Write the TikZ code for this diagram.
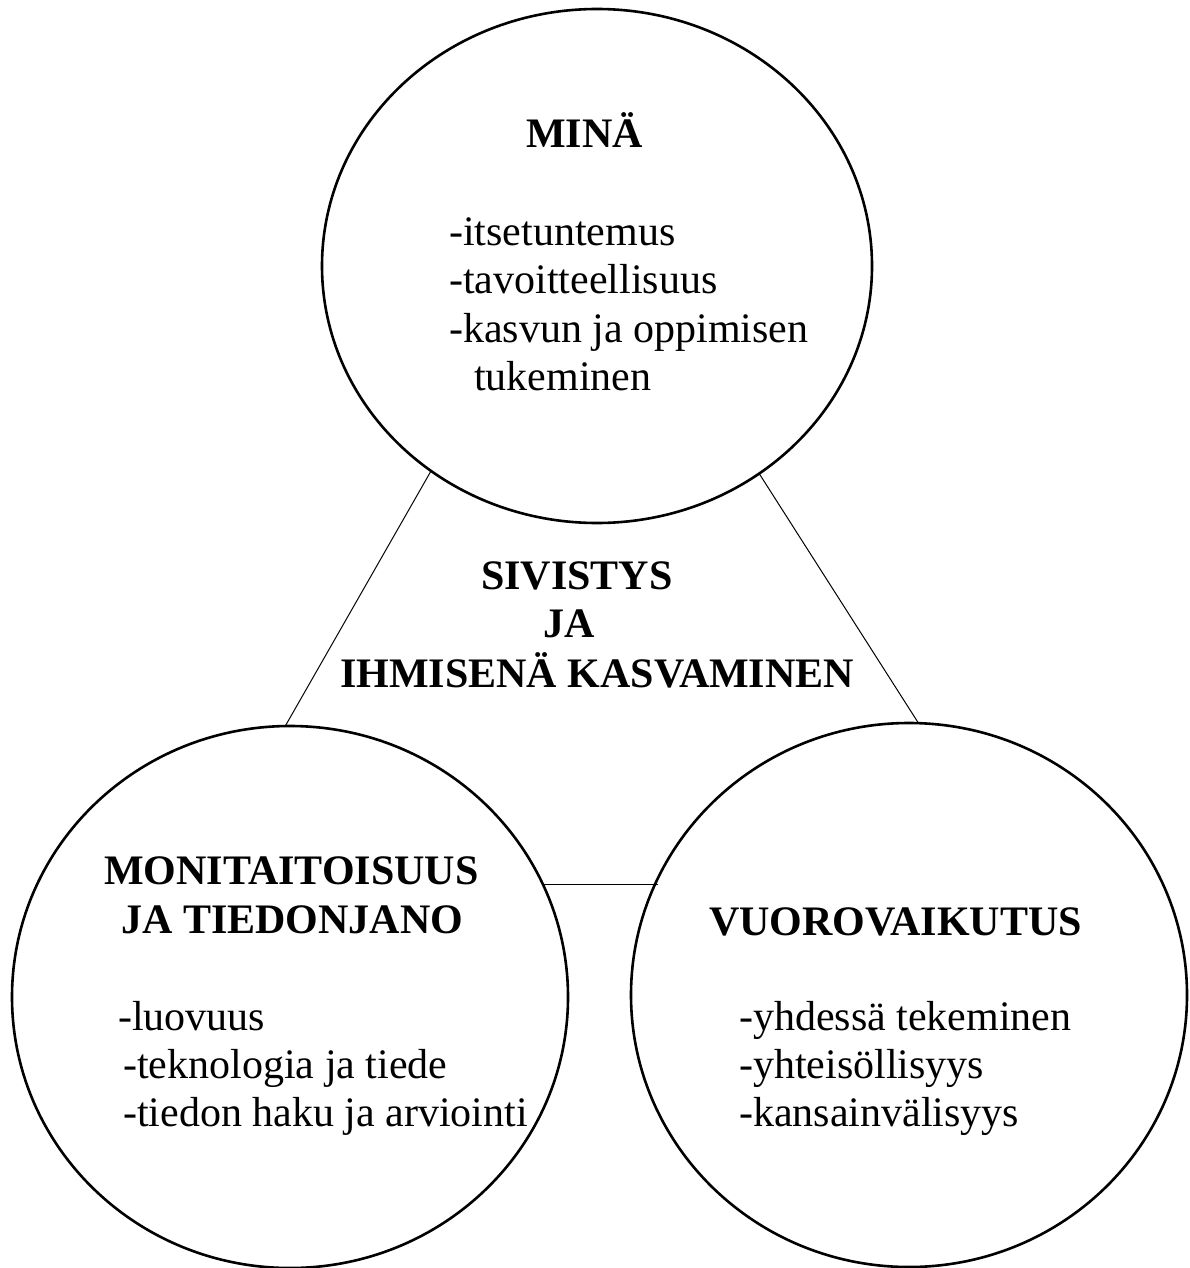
\documentclass[tikz,border=0pt]{standalone}
\usepackage{fontspec}
\setmainfont{Liberation Serif}[BoldFont={Liberation Serif Bold},ItalicFont={Liberation Serif Italic}]
\usetikzlibrary{shapes.geometric}
\begin{document}
\begin{tikzpicture}[x=1pt,y=-1pt,
  bubble/.style={ellipse,draw,line width=2.6pt,inner sep=0pt,outer sep=0pt},
  link/.style={line width=1pt},
  head/.style={anchor=base west,inner sep=0pt,font=\fontsize{42}{48}\selectfont\bfseries},
  item/.style={anchor=base west,inner sep=0pt,font=\fontsize{42}{48}\selectfont}]
\useasboundingbox (0,0) rectangle (1189,1268);
% circles
\node[bubble,minimum width=550pt,minimum height=514pt] (top) at (597,266) {};
\node[bubble,minimum width=556pt,minimum height=542pt] (left) at (290,997) {};
\node[bubble,minimum width=556pt,minimum height=544pt] (right) at (909,995) {};
% connectors
\draw[link] (top.231) -- (left.91.9);
\draw[link] (top.-52) -- (right.88.1);
\coordinate (hl) at (left.24.5);
\draw[link] (hl) -- (hl -| right.155.9);
% top texts
\node[head] (mina) at (526,148) {MINÄ};
\node[item] (t1) at (449,245) {-itsetuntemus};
\node[item] (t2) at (449,293) {-tavoitteellisuus};
\node[item] (t3) at (449,342) {-kasvun ja oppimisen};
\node[item] (t4) at (474,390) {tukeminen};
% center texts
\node[head] (c1) at (481,589) {SIVISTYS};
\node[head] (c2) at (543,637) {JA};
\node[head] (c3) at (340,687) {IHMISENÄ KASVAMINEN};
% left texts
\node[head] (l1) at (104,884) {MONITAITOISUUS};
\node[head] (l2) at (121,933) {JA TIEDONJANO};
\node[item] (l3) at (118,1030) {-luovuus};
\node[item] (l4) at (123,1078) {-teknologia ja tiede};
\node[item] (l5) at (123,1126) {-tiedon haku ja arviointi};
% right texts
\node[head] (r1) at (709,935) {VUOROVAIKUTUS};
\node[item] (r2) at (739,1030) {-yhdessä tekeminen};
\node[item] (r3) at (739,1078) {-yhteisöllisyys};
\node[item] (r4) at (739,1126) {-kansainvälisyys};
\end{tikzpicture}
\end{document}
